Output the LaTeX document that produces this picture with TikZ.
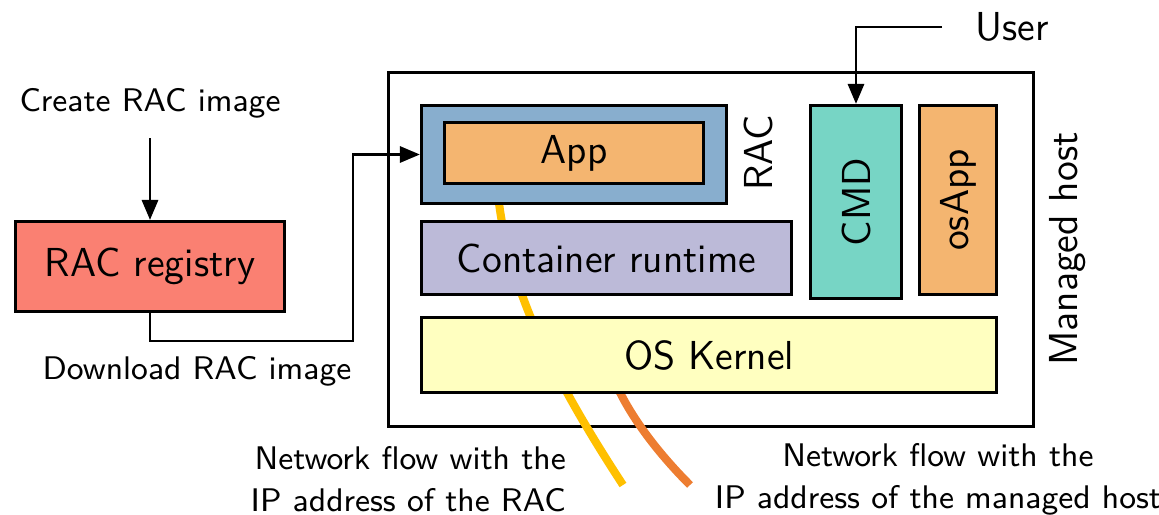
\documentclass[tikz,border=0pt]{standalone}
\usepackage{xcolor}
\usetikzlibrary{calc,positioning,arrows.meta}
\renewcommand{\familydefault}{\sfdefault}
\definecolor{regred}{HTML}{FA8072}
\definecolor{racblue}{HTML}{88AECE}
\definecolor{apporange}{HTML}{F4B570}
\definecolor{rtpurple}{HTML}{BCBAD8}
\definecolor{kernyellow}{HTML}{FFFFC0}
\definecolor{cmdteal}{HTML}{77D5C5}
\definecolor{flowyellow}{HTML}{FFC000}
\definecolor{floworange}{HTML}{ED7D31}

\begin{document}
\begin{tikzpicture}[x=0.01cm, y=-0.01cm, font=\fontsize{11.5}{13.5}\selectfont,
  blk/.style={draw, line width=0.85pt, inner sep=0pt, align=center},
  note/.style={font=\fontsize{9.3}{11.9}\selectfont},
  flow/.style={line width=2.3pt},
  >={Triangle[length=2mm,width=1.6mm]}, line width=0.85pt]
\useasboundingbox (0,0) rectangle (1159,515);
\node[blk, minimum width=6.45cm, minimum height=3.54cm] (host) at (711,249.5) {};
\node[rotate=90] (hostlbl) at (1068,249) {Managed host};
% network flows, under the layers
\draw[flow, flowyellow] (498,195) .. controls (509,295) and (561,390) .. (623,485);
\draw[flow, floworange] (605,350) .. controls (612,390) and (645,440) .. (690,485);
\node[blk, fill=racblue, minimum width=3.05cm, minimum height=0.98cm] (rac) at (574,154.5) {};
\node[blk, fill=apporange, minimum width=2.59cm, minimum height=0.61cm] (app) at (574,153) {App};
\node[rotate=90] (raclbl) at (758,153) {RAC};
\node[blk, fill=rtpurple, minimum width=3.70cm, minimum height=0.73cm] (runtime) at (606.5,258) {Container runtime};
\node[blk, fill=kernyellow, minimum width=5.75cm, minimum height=0.75cm] (kernel) at (709,355) {OS Kernel};
\node[blk, fill=cmdteal, rotate=90, minimum width=1.93cm, minimum height=0.91cm] (cmd) at (856,202) {CMD};
\node[blk, fill=apporange, rotate=90, minimum width=1.89cm, minimum height=0.77cm] (osapp) at (958,200) {osApp};
\node[blk, fill=regred, minimum width=2.69cm, minimum height=0.90cm] (registry) at (150,266.5) {RAC registry};
\node (user) at (1012,27) {User};
\node[note] (create) at (150,103) {Create RAC image};
\node[note] (download) at (197,371) {Download RAC image};
\node[note, align=right, anchor=east] (racflow) at (579,479) {Network flow with the\\IP address of the RAC};
\node[note, align=center] (hostflow) at (938,479) {Network flow with the\\IP address of the managed host};
\coordinate (dlbend) at (353,341);
\draw[->, shorten <=0.07cm] (create) -- (registry);
\draw[->] (registry.south) |- (dlbend) |- (rac.west);
\draw[->, shorten <=0.2cm] (user.west) -| (cmd.east);
\end{tikzpicture}
\end{document}
